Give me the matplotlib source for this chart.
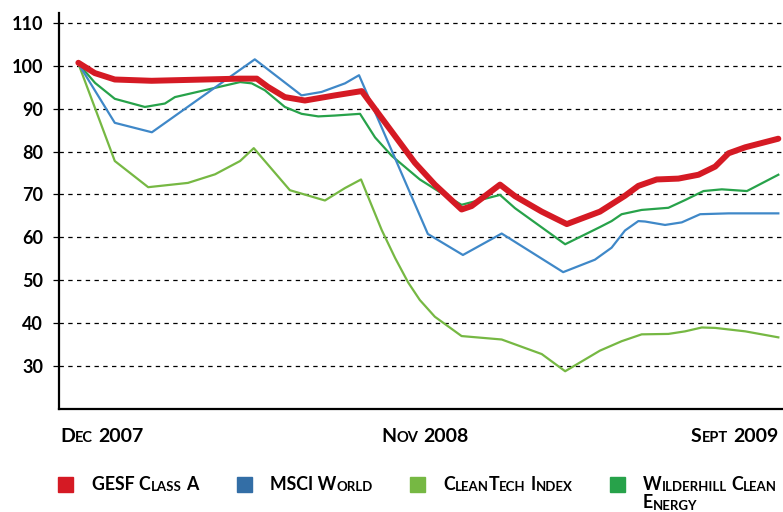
import re
import matplotlib
matplotlib.use("Agg")
from matplotlib import pyplot as plt
from matplotlib.patches import Rectangle

# months since Dec 2007 (fractional) and index values
gesf_x = [0, 0.49, 1.09, 2.19, 4.84, 5.34, 5.67, 6.18, 6.78, 7.68, 8.48, 10.07, 10.67, 11.47, 11.77,
          12.62, 13.07, 13.87, 14.62, 15.61, 16.36, 16.76, 17.31, 17.96, 18.56, 19.06, 19.46, 19.96, 20.95]
gesf_y = [100.7, 98.3, 96.8, 96.5, 97.0, 97.0, 95.1, 92.7, 91.9, 93.1, 94.1, 77.4, 72.3, 66.5, 67.3,
          72.3, 69.6, 66.0, 63.1, 66.0, 69.7, 72.0, 73.5, 73.7, 74.6, 76.5, 79.6, 81.0, 83.0]

msci_x = [0, 1.09, 2.20, 5.28, 6.68, 7.28, 7.98, 8.40, 10.46, 11.51, 12.67, 14.51, 15.46, 15.96,
          16.36, 16.76, 16.96, 17.56, 18.06, 18.61, 19.46, 20.95]
msci_y = [100.5, 86.7, 84.5, 101.5, 93.1, 93.9, 95.9, 97.8, 60.8, 55.9, 60.9, 51.9, 54.8, 57.6,
          61.6, 63.8, 63.7, 62.9, 63.5, 65.4, 65.6, 65.6]

clean_x = [0, 1.09, 2.09, 3.28, 4.09, 4.84, 5.25, 6.33, 7.38, 7.98, 8.46, 8.78, 9.08, 9.48, 9.87,
           10.22, 10.67, 11.47, 12.67, 13.87, 14.57, 15.61, 16.26, 16.86, 17.66, 18.16, 18.66,
           19.06, 19.96, 20.95]
clean_y = [100.5, 77.8, 71.7, 72.7, 74.7, 77.8, 80.8, 71.0, 68.6, 71.5, 73.5, 67.4, 61.7, 55.2, 49.5,
           45.4, 41.5, 37.0, 36.2, 32.8, 28.8, 33.6, 35.8, 37.4, 37.5, 38.1, 39.0,
           38.9, 38.1, 36.7]

wild_x = [0, 0.5, 1.09, 1.99, 2.59, 2.89, 4.84, 5.19, 5.58, 6.18, 6.68, 7.18, 7.68, 8.43, 8.88, 9.38,
          10.22, 10.87, 11.47, 12.62, 13.07, 14.57, 15.61, 15.96, 16.26, 16.86, 17.66, 18.16,
          18.71, 19.26, 20.01, 20.95]
wild_y = [100.5, 96.0, 92.3, 90.4, 91.2, 92.7, 96.2, 95.9, 94.3, 90.4, 88.8, 88.2, 88.4, 88.8, 83.3, 79.0,
          73.5, 70.3, 67.6, 69.9, 66.8, 58.4, 62.4, 63.8, 65.4, 66.4, 66.9, 68.7,
          70.8, 71.2, 70.8, 74.6]

y_ticks = [30, 40, 50, 60, 70, 80, 90, 100, 110]
x_labels = ["Dec 2007", "Nov 2008", "Sept 2009"]
series_names = ["GESF Class A", "MSCI World", "CleanTech Index", "Wilderhill Clean"]

RED = "#d51a24"
BLUE = "#3f88c8"
LGREEN = "#76b843"
DGREEN = "#27a24a"
BLUE_SW = "#336ea6"

plt.rcParams['font.family'] = ['Lato', 'DejaVu Sans']

fig = plt.figure(figsize=(7.83, 5.12), dpi=100)
ax = fig.add_axes([59 / 783, 1 - 409 / 512, 1 - 59 / 783, (409 - 13) / 512])

ax.plot(clean_x, clean_y, color=LGREEN, lw=1.6, zorder=3)
ax.plot(wild_x, wild_y, color=DGREEN, lw=1.6, zorder=4)
ax.plot(msci_x, msci_y, color=BLUE, lw=1.6, zorder=5)
ax.plot(gesf_x, gesf_y, color=RED, lw=4.3, zorder=6, solid_capstyle="round")

ax.set_ylim(20, 112.3)
ax.set_xlim(-0.58, 21.09)
ax.set_yticks(y_ticks)
ax.set_xticks([])
ax.yaxis.grid(True, color="black", lw=0.9, linestyle=(0, (3.5, 3.5)))
ax.set_axisbelow(True)
ax.tick_params(axis="y", length=4.5, width=0.9, pad=7, labelsize=13)
for lab in ax.get_yticklabels():
    lab.set_fontweight("bold")
for s in ["top", "right"]:
    ax.spines[s].set_visible(False)
for s in ["left", "bottom"]:
    ax.spines[s].set_linewidth(1.6)


def caps_text(x, y, s, big=14, small=10.5, ha="left"):
    """draw s in small caps starting at figure coords (x, y)"""
    runs = re.findall(r"[a-z]+|[^a-z]+", s)
    first = None
    prev = None
    for r in runs:
        size = small if r.islower() else big
        gap = 0
        if r.startswith(" "):
            gap = 0.26 * big
            r = r.lstrip()
        if prev is None:
            prev = fig.text(x, y, r.upper(), fontsize=size, fontweight="bold",
                            ha="left", va="bottom")
            first = prev
        else:
            prev = ax.annotate(r.upper(), xy=(1, 0), xycoords=prev,
                               xytext=(gap, 0), textcoords="offset points",
                               fontsize=size, fontweight="bold",
                               ha="left", va="bottom", annotation_clip=False)
    if ha != "left":
        fig.canvas.draw()
        rend = fig.canvas.get_renderer()
        w = (prev.get_window_extent(rend).x1 - first.get_window_extent(rend).x0) / fig.bbox.width
        first.set_x(x - w if ha == "right" else x - w / 2)
    return first


# x axis labels
caps_text(60 / 783, 1 - 445 / 512, x_labels[0])
caps_text(425 / 783, 1 - 445 / 512, x_labels[1], ha="center")
caps_text(778 / 783, 1 - 445 / 512, x_labels[2], ha="right")

# legend
swatch_x = [58, 237, 410, 610]
text_x = [92, 270, 443, 643]
colors = [RED, BLUE_SW, LGREEN, DGREEN]
for name, sx, tx, c in zip(series_names, swatch_x, text_x, colors):
    fig.patches.append(Rectangle((sx / 783, 1 - 492 / 512), 15 / 783, 15 / 512,
                                 transform=fig.transFigure, color=c, figure=fig))
    caps_text(tx / 783, 1 - 493 / 512, name, big=12.8, small=9.5)
caps_text(text_x[3] / 783, 1 - 511.5 / 512, "Energy", big=12.8, small=9.5)

fig.savefig("out.png", dpi=100)
